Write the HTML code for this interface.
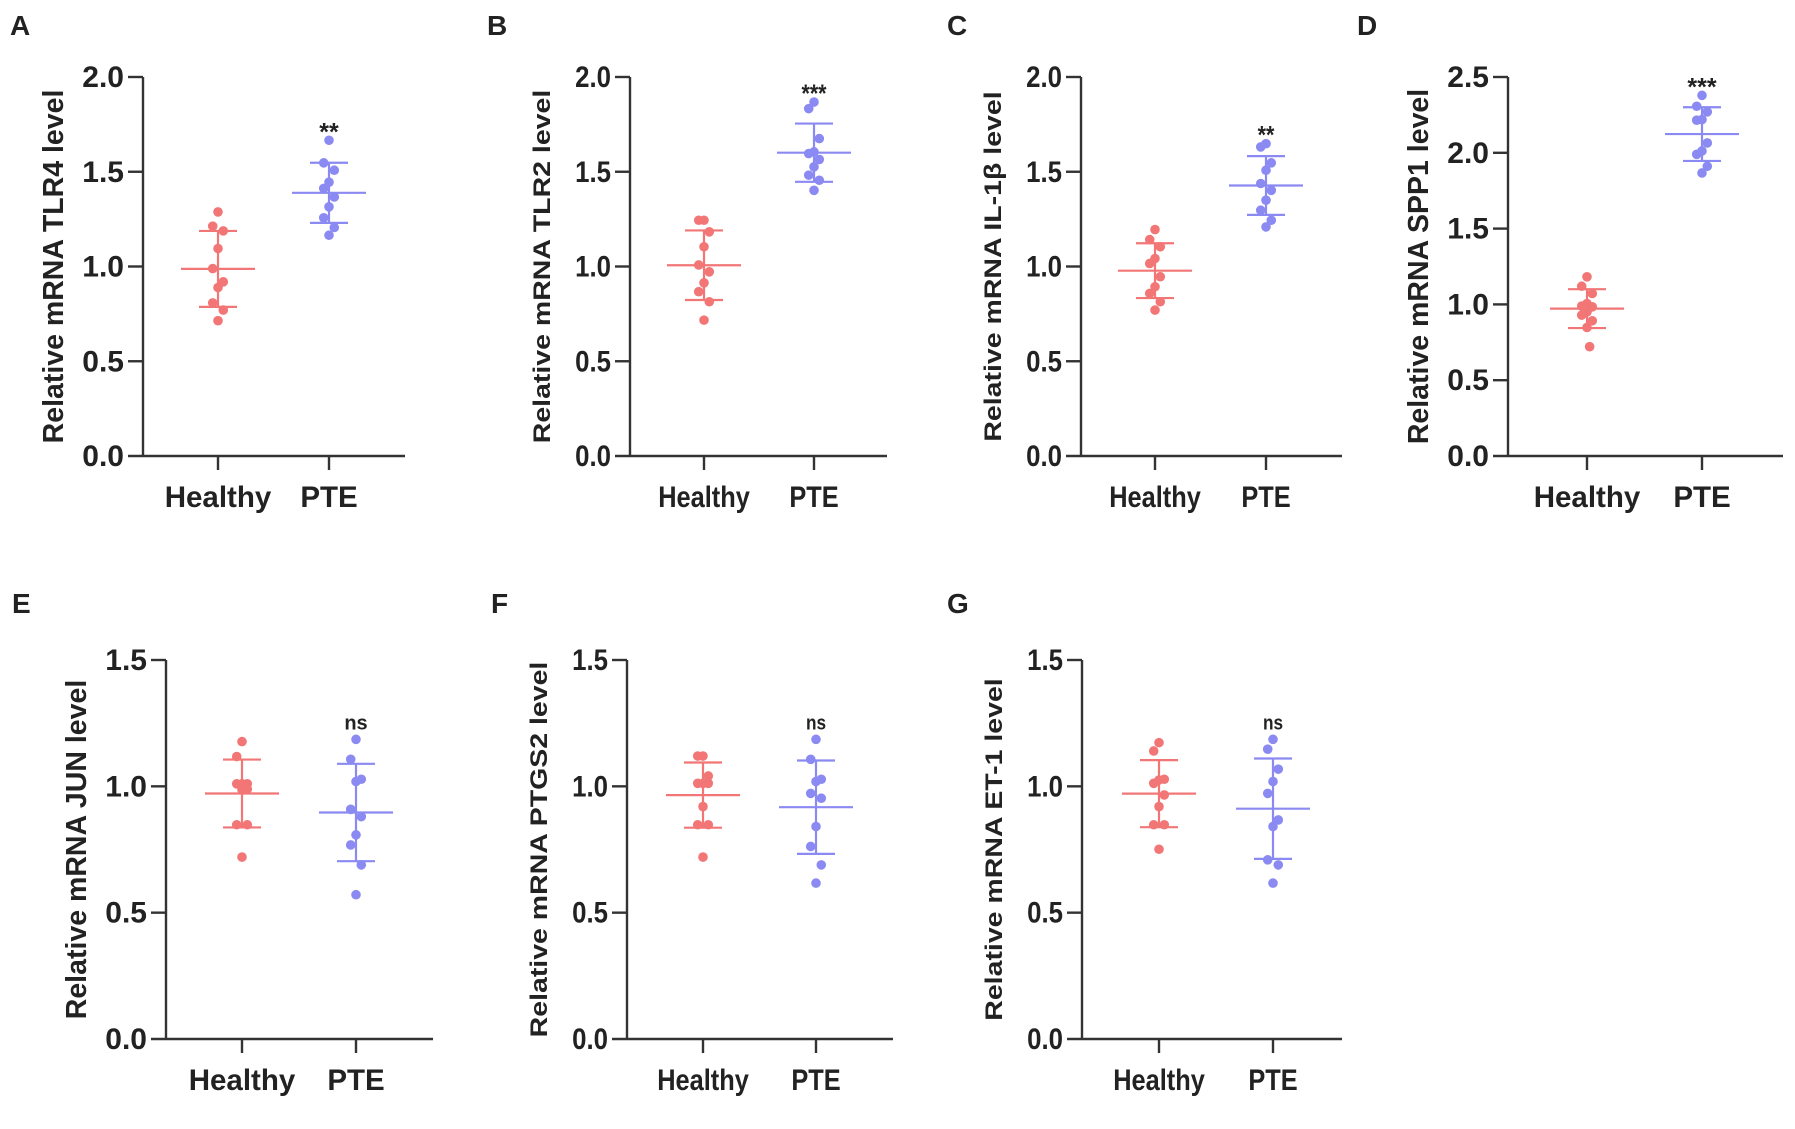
<!DOCTYPE html>
<html><head><meta charset="utf-8"><style>
html,body{margin:0;padding:0;background:#fff}
svg{display:block}
text{font-family:"Liberation Sans",Arial,sans-serif;font-weight:bold;fill:#222}
</style></head><body>
<svg id="fig" width="1795" height="1129" viewBox="0 0 1795 1129" xmlns="http://www.w3.org/2000/svg"></svg>
<script>
const groups = ["Healthy","PTE"];
const tlr4Healthy = [1.288,1.213,1.188,1.095,0.989,0.919,0.889,0.808,0.770,0.714];
const tlr4Pte = [1.666,1.547,1.508,1.445,1.412,1.367,1.315,1.257,1.206,1.165];
const tlr2Healthy = [1.244,1.244,1.183,1.104,1.008,0.972,0.914,0.867,0.814,0.717];
const tlr2Pte = [1.868,1.833,1.675,1.605,1.596,1.565,1.526,1.482,1.455,1.402];
const il1bHealthy = [1.195,1.142,1.104,1.042,1.016,0.946,0.893,0.858,0.814,0.770];
const il1bPte = [1.648,1.631,1.547,1.508,1.438,1.402,1.350,1.297,1.244,1.209];
const spp1Healthy = [1.182,1.120,1.072,1.006,0.989,0.984,0.951,0.929,0.892,0.848,0.721];
const spp1Pte = [2.379,2.307,2.270,2.219,2.215,2.065,2.012,1.990,1.911,1.867];
const junHealthy = [1.177,1.118,1.010,1.010,1.010,0.989,0.986,0.848,0.848,0.720];
const junPte = [1.186,1.107,1.028,1.019,0.909,0.880,0.808,0.768,0.689,0.571];
const ptgs2Healthy = [1.120,1.120,1.041,1.012,1.012,1.012,0.920,0.848,0.848,0.720];
const ptgs2Pte = [1.186,1.107,1.028,1.019,0.972,0.953,0.841,0.762,0.689,0.617];
const et1Healthy = [1.173,1.140,1.028,1.025,1.012,0.966,0.920,0.848,0.848,0.751];
const et1Pte = [1.186,1.147,1.068,1.019,0.972,0.867,0.841,0.709,0.689,0.617];
const ticks20 = ["0.0","0.5","1.0","1.5","2.0"];
const ticks25 = ["0.0","0.5","1.0","1.5","2.0","2.5"];
const ticks15 = ["0.0","0.5","1.0","1.5"];
const sigLabels = ["**","***","**","***","ns","ns","ns"];

const panels = [
 {id:"a",letter:"A",lx:10,ly:35,ax:143,ex:405,t0:218,t1:329,top:77,bot:456,ymax:2.0,ticks:ticks20,title:"Relative mRNA TLR4 level",h:tlr4Healthy,p:tlr4Pte,sig:0,nar:1},
 {id:"b",letter:"B",lx:487,ly:35,ax:630,ex:887,t0:704,t1:814,top:77,bot:456,ymax:2.0,ticks:ticks20,title:"Relative mRNA TLR2 level",h:tlr2Healthy,p:tlr2Pte,sig:1,nar:0.86},
 {id:"c",letter:"C",lx:947,ly:35,ax:1081,ex:1342,t0:1155,t1:1266,top:77,bot:456,ymax:2.0,ticks:ticks20,title:"Relative mRNA IL-1\u03b2 level",h:il1bHealthy,p:il1bPte,sig:2,nar:0.86},
 {id:"d",letter:"D",lx:1357,ly:35,ax:1508,ex:1783,t0:1587,t1:1702,top:77,bot:456,ymax:2.5,ticks:ticks25,title:"Relative mRNA SPP1 level",h:spp1Healthy,p:spp1Pte,sig:3,nar:1},
 {id:"e",letter:"E",lx:12,ly:613,ax:166,ex:433,t0:242,t1:356,top:660,bot:1039,ymax:1.5,ticks:ticks15,title:"Relative mRNA JUN level",h:junHealthy,p:junPte,sig:4,nar:1},
 {id:"f",letter:"F",lx:491,ly:613,ax:627,ex:893,t0:703,t1:816,top:660,bot:1039,ymax:1.5,ticks:ticks15,title:"Relative mRNA PTGS2 level",h:ptgs2Healthy,p:ptgs2Pte,sig:5,nar:0.86},
 {id:"g",letter:"G",lx:947,ly:613,ax:1082,ex:1342,t0:1159,t1:1273,top:660,bot:1039,ymax:1.5,ticks:ticks15,title:"Relative mRNA ET-1 level",h:et1Healthy,p:et1Pte,sig:6,nar:0.86}
];
const NS="http://www.w3.org/2000/svg";
const svg=document.getElementById("fig");
function mk(tag,attrs,parent){const e=document.createElementNS(NS,tag);for(const k in attrs)e.setAttribute(k,attrs[k]);parent.appendChild(e);return e;}
const jit=[0,-16,16,0,-16,16,0,-16,16,0,8];
panels.forEach(P=>{
  const g=mk("g",{},svg);
  
  
  const y=v=>P.bot-(v/P.ymax)*(P.bot-P.top);
  const L=mk("text",{x:P.lx,y:P.ly,"font-size":28},g);L.textContent=P.letter;
  
  
  const ya=mk("line",{x1:P.ax,y1:P.top,x2:P.ax,y2:P.bot,stroke:"#333","stroke-width":2.4},g);
  
  
  const xa=mk("line",{x1:P.ax-15,y1:P.bot,x2:P.ex,y2:P.bot,stroke:"#333","stroke-width":2.4},g);
  
  
  P.ticks.forEach(t=>{
    const v=parseFloat(t),yy=y(v);
    if(v>0) mk("line",{x1:P.ax-15,y1:yy,x2:P.ax,y2:yy,stroke:"#333","stroke-width":2.4},g);
    const tt=mk("text",{x:0,y:0,"font-size":30,"text-anchor":"end",transform:`translate(${P.ax-19},${yy+10}) scale(${P.nar},1)`},g);
    tt.textContent=t;
    
    
  });
  const tl=mk("text",{x:0,y:0,"font-size":28.5,"text-anchor":"middle",transform:`translate(${P.ax-80},${(P.top+P.bot)/2}) rotate(-90) scale(1,${P.nar})`},g);
  tl.textContent=P.title;
  
  
  const cols=["#f27676","#8a8af2"];
  [P.h,P.p].forEach((arr,gi)=>{
    const cx=gi?P.t1:P.t0;
    mk("line",{x1:cx,y1:P.bot,x2:cx,y2:P.bot+14,stroke:"#333","stroke-width":2.4},g);
    const cl=mk("text",{x:0,y:0,"font-size":29.5,"text-anchor":"middle",transform:`translate(${cx},${P.bot+51}) scale(${P.nar},1)`},g);
    cl.textContent=groups[gi];
    
    
    const n=arr.length,mean=arr.reduce((a,b)=>a+b,0)/n;
    const sd=Math.sqrt(arr.reduce((a,b)=>a+(b-mean)*(b-mean),0)/(n-1));
    const eg=mk("g",{stroke:cols[gi],"stroke-width":2.2},g);
    
    
    mk("line",{x1:cx,y1:y(mean+sd),x2:cx,y2:y(mean-sd)},eg);
    mk("line",{x1:cx-37,y1:y(mean),x2:cx+37,y2:y(mean)},eg);
    mk("line",{x1:cx-19,y1:y(mean+sd),x2:cx+19,y2:y(mean+sd)},eg);
    mk("line",{x1:cx-19,y1:y(mean-sd),x2:cx+19,y2:y(mean-sd)},eg);
    arr.forEach((v,i)=>{
      const c=mk("circle",{cx:cx+jit[i%jit.length]*0.33,cy:y(v),r:4.8,fill:cols[gi]},g);
      
      
    });
    if(gi===1){
      const s=sigLabels[P.sig];
      const mx=Math.max(...arr);
      const st=mk("text",{x:0,y:0,"font-size":s==="ns"?20:25,"font-weight":s==="ns"?"normal":"bold","text-anchor":"middle",transform:`translate(${cx},${y(mx)+(s==="ns"?-10:0)}) scale(${P.nar},1)`},g);
      st.textContent=s;
      
      
    }
  });
});
</script>
</body></html>
